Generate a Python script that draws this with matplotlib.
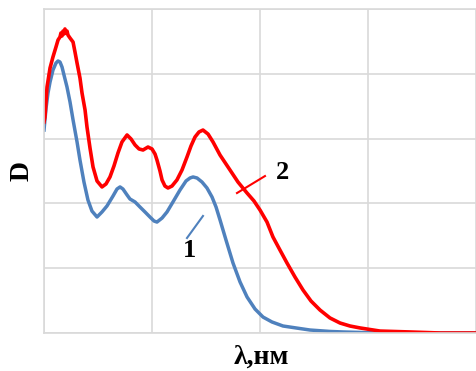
import numpy as np
from matplotlib import pyplot as plt

# Spectrum 1 (blue)
wl1 = [200, 201.9, 203.7, 205.6, 208.3, 211.1, 213.0, 214.8, 216.7, 218.5, 221.3, 224.1, 226.9,
       230.6, 233.3, 237.0, 240.7, 244.4, 249.1, 253.7, 258.3, 263.9, 267.6, 270.4, 273.1,
       276.9, 279.6, 284.3, 288.9, 293.5, 298.1, 301.9, 304.6, 309.3, 313.9, 319.4, 325.9,
       331.5, 335.2, 338.0, 341.7, 346.3, 350.9, 355.6, 359.3, 363.0, 368.5, 375.0, 381.5,
       388.0, 395.4, 402.8, 411.1, 421.3, 433.3, 446.3, 464.8, 476.9, 511.1, 600]
d1 = [1.566, 1.736, 1.852, 1.937, 2.029, 2.083, 2.099, 2.091, 2.052, 1.991, 1.898, 1.782, 1.644,
      1.474, 1.335, 1.165, 1.026, 0.941, 0.895, 0.934, 0.980, 1.057, 1.111, 1.127, 1.111,
      1.065, 1.034, 1.011, 0.972, 0.934, 0.895, 0.864, 0.856, 0.887, 0.934, 1.011, 1.103,
      1.173, 1.196, 1.204, 1.196, 1.165, 1.119, 1.049, 0.972, 0.872, 0.718, 0.540, 0.394,
      0.278, 0.185, 0.123, 0.085, 0.054, 0.039, 0.023, 0.012, 0.008, 0.0, 0.0]

# Spectrum 2 (red)
wl2 = [200, 200.9, 202.8, 205.6, 208.3, 211.1, 213.0, 214.8, 215.7, 216.7, 217.6, 218.5, 219.4,
       220.4, 221.3, 222.2, 224.1, 226.9, 228.7, 230.6, 233.3, 235.2, 238.0, 239.8, 242.6,
       245.4, 249.1, 253.7, 257.4, 261.1, 264.8, 268.5, 272.2, 276.9, 280.6, 284.3, 288.0,
       291.7, 296.3, 300.0, 302.8, 304.6, 307.4, 309.3, 312.0, 314.8, 318.5, 323.1, 327.8,
       332.4, 336.1, 339.8, 343.5, 347.2, 351.9, 356.5, 363.0, 372.2, 379.6, 388.0, 394.4,
       400.0, 406.5, 412.0, 418.5, 425.0, 432.4, 439.8, 447.2, 455.6, 464.8, 474.1, 483.3,
       492.6, 511.1, 538.9, 566.7, 600]
d2 = [1.628, 1.667, 1.898, 2.045, 2.130, 2.207, 2.261, 2.284, 2.315, 2.292, 2.330, 2.307, 2.346,
      2.315, 2.330, 2.299, 2.276, 2.245, 2.168, 2.083, 1.968, 1.852, 1.721, 1.590, 1.427,
      1.281, 1.173, 1.127, 1.150, 1.204, 1.289, 1.389, 1.474, 1.528, 1.497, 1.451, 1.420,
      1.412, 1.435, 1.420, 1.381, 1.335, 1.250, 1.181, 1.134, 1.119, 1.134, 1.181, 1.258,
      1.358, 1.443, 1.512, 1.551, 1.566, 1.535, 1.474, 1.373, 1.258, 1.165, 1.080, 1.019,
      0.949, 0.856, 0.741, 0.640, 0.540, 0.432, 0.332, 0.247, 0.177, 0.116, 0.077, 0.054,
      0.039, 0.015, 0.008, 0.0, 0.0]

fig = plt.figure(figsize=(4.76, 3.71), dpi=100)
ax = fig.add_axes([44 / 476, 1 - 333 / 371, 432 / 476, 324 / 371])

ax.plot(wl1, d1, color='#4F81BD', linewidth=2.5, solid_joinstyle='round')
ax.plot(wl2, d2, color='#FF0000', linewidth=2.6, solid_joinstyle='round')

# Curve labels
ax.plot([332.4, 347.2], [0.733, 0.903], color='#4F81BD', linewidth=1.5)
ax.text(334.3, 0.64, '1', family='Liberation Serif', fontweight='bold', fontsize=19,
        ha='center', va='center')
ax.plot([378.7, 404.6], [1.080, 1.211], color='#FF0000', linewidth=1.5)
ax.text(420.4, 1.235, '2', family='Liberation Serif', fontweight='bold', fontsize=19,
        ha='center', va='center')

ax.set_xlim(200, 600)
ax.set_ylim(0, 2.5)
ax.set_xticks([200, 300, 400, 500, 600])
ax.set_yticks([0, 0.5, 1.0, 1.5, 2.0, 2.5])
ax.tick_params(length=0, labelbottom=False, labelleft=False)
ax.grid(color='#D9D9D9', linewidth=1.2)
ax.set_axisbelow(True)
for side in ['left', 'bottom', 'top']:
    ax.spines[side].set_color('#D9D9D9')
    ax.spines[side].set_linewidth(1.2)
ax.spines['right'].set_visible(False)

fig.text(22 / 476, 1 - 171 / 371, 'D', family='Liberation Serif', fontweight='bold',
         fontsize=20, rotation=90, ha='center', va='center')
fig.text(261 / 476, 1 - 357 / 371, 'λ,нм', family='Liberation Serif', fontweight='bold',
         fontsize=20, ha='center', va='center')

plt.savefig('out.png', dpi=100)
